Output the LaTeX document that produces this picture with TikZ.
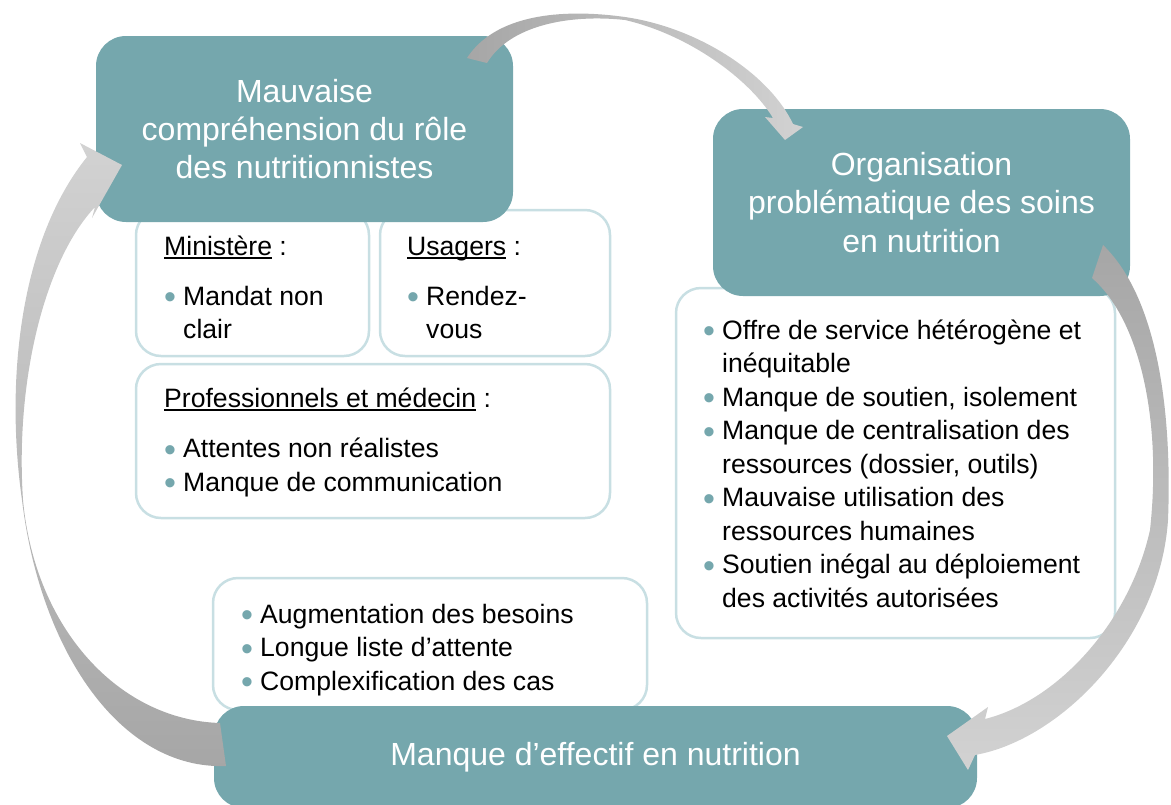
\documentclass[tikz,border=0pt]{standalone}
\usepackage{fontspec}
\setmainfont{Liberation Sans}
\definecolor{nutteal}{RGB}{117,167,173}
\definecolor{nutline}{RGB}{200,223,227}
\definecolor{arrdark}{RGB}{166,166,166}
\definecolor{arrlight}{RGB}{210,210,210}
\newcommand{\bul}{\makebox[19pt][l]{\raisebox{-3.5pt}{\fontsize{34}{34}\selectfont\textcolor{nutteal}{•}}}}
\newcommand{\ind}{\hspace*{19pt}}
\newcommand{\undl}[1]{\setbox0\hbox{#1}\rlap{\rule[-3.5pt]{\wd0}{1.6pt}}\box0\relax}

\begin{document}
\begin{tikzpicture}[x=1pt, y=-1pt,
  headbox/.style={fill=nutteal, rounded corners=30pt, text=white, align=center, inner sep=0pt, font=\fontsize{32}{38.4}\selectfont},
  listbox/.style={draw=nutline, line width=2.5pt, fill=white, rounded corners=25pt, inner sep=0pt},
  listtext/.style={anchor=base west, align=left, inner sep=0pt, font=\fontsize{26.6}{33.5}\selectfont}
]
  \useasboundingbox (0,0) rectangle (1171,804);

  % white boxes
  \node[listbox, minimum width=233pt, minimum height=146pt] (minbox) at (252.5,283) {};
  \node[listbox, minimum width=230pt, minimum height=146pt] (usabox) at (495,283) {};
  \node[listbox, minimum width=474pt, minimum height=154pt] (probox) at (373,441) {};
  \node[listbox, minimum width=434pt, minimum height=132pt] (effbox) at (430,644) {};
  \node[listbox, minimum width=439pt, minimum height=350pt] (orgbox) at (895.5,463) {};

  % texts (anchored at the baseline of the last line)
  \node[listtext] (mintext) at (164,338.5) {\undl{Ministère} :\\[16.5pt] \bul Mandat non\\ \ind clair};
  \node[listtext] (usatext) at (407,338.5) {\undl{Usagers} :\\[16.5pt] \bul Rendez-\\ \ind vous};
  \node[listtext] (protext) at (164,491) {\undl{Professionnels et médecin} :\\[17pt] \bul Attentes non réalistes\\ \bul Manque de communication};
  \node[listtext] (efftext) at (241,690) {\bul Augmentation des besoins\\ \bul Longue liste d’attente\\ \bul Complexification des cas};
  \node[listtext] (orgtext) at (703,607) {\bul Offre de service hétérogène et\\ \ind inéquitable\\ \bul Manque de soutien, isolement\\ \bul Manque de centralisation des\\ \ind ressources (dossier, outils)\\ \bul Mauvaise utilisation des\\ \ind ressources humaines\\ \bul Soutien inégal au déploiement\\ \ind des activités autorisées};

  % teal boxes
  \node[headbox, minimum width=417pt, minimum height=186pt] (mauvaise) at (304.5,129) {Mauvaise\\ compréhension du rôle\\ des nutritionnistes};
  \node[headbox, minimum width=417pt, minimum height=187pt] (organis) at (921.5,202.5) {Organisation\\ problématique des soins\\ en nutrition};
  \node[headbox, minimum width=763pt, minimum height=102pt] (effectif) at (595.5,757) {Manque d’effectif en nutrition};

  % curved arrows
  \shade[left color=arrdark, right color=arrlight] (467,58) .. controls (495,15) and (560,8) .. (625,17)
    .. controls (700,28) and (770,75) .. (793,124) -- (803,127) -- (785,140) -- (765,117) -- (773,118)
    .. controls (750,80) and (690,35) .. (625,20) .. controls (570,14) and (510,25) .. (487,63) -- cycle;
  \shade[top color=arrdark, bottom color=arrlight] (1103,245) .. controls (1160,300) and (1172,420) .. (1168,520)
    .. controls (1160,640) and (1060,740) .. (975,755) -- (968,770) -- (947,736) -- (988,707) -- (985,719)
    .. controls (1060,700) and (1130,620) .. (1150,530) .. controls (1162,420) and (1140,320) .. (1092,278) -- cycle;
  \shade[bottom color=arrdark, top color=arrlight] (226,766) .. controls (120,770) and (40,650) .. (22,500)
    .. controls (5,380) and (20,240) .. (87,157) -- (80,143) -- (122,165) -- (92,218) -- (95,207)
    .. controls (45,260) and (15,380) .. (23,500) .. controls (35,630) and (120,720) .. (220,723) -- cycle;
\end{tikzpicture}
\end{document}
